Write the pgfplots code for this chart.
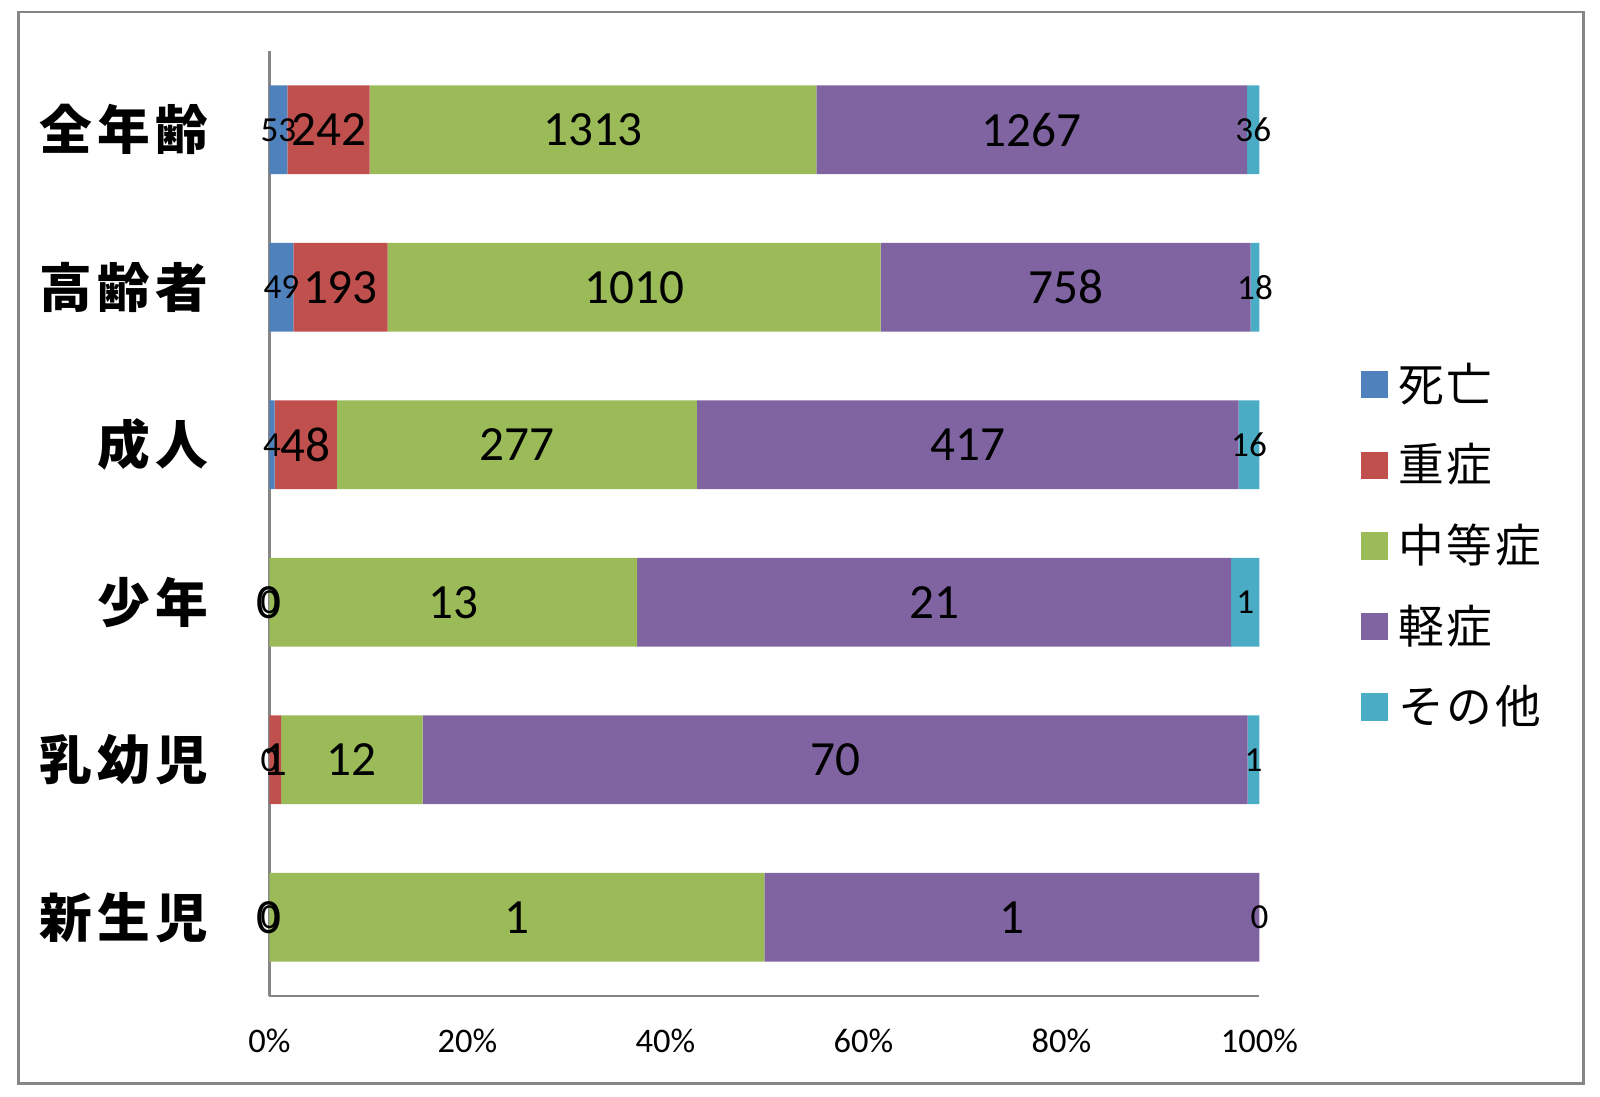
\documentclass[border=0pt]{standalone}
\usepackage{pgfplots}
\pgfplotsset{compat=1.18}
\usepackage{pgfplotstable}
\usepackage{fontspec}
\setmainfont{Carlito}
\newfontfamily\cjk[LetterSpace=6]{Noto Sans CJK JP}
\newfontfamily\cjkb[LetterSpace=10]{Noto Sans CJK JP}
\definecolor{cA}{HTML}{4F81BD}
\definecolor{cB}{HTML}{C0504D}
\definecolor{cC}{HTML}{9BBB59}
\definecolor{cD}{HTML}{8064A2}
\definecolor{cE}{HTML}{4BACC6}
\definecolor{axgray}{HTML}{868686}
\pgfplotstableread{
idx a b c d e
0 53 242 1313 1267 36
1 49 193 1010 758 18
2 4 48 277 417 16
3 0 0 13 21 1
4 0 1 12 70 1
5 0 0 1 1 0
}\data
\pgfplotstablecreatecol[create col/expr={\thisrow{a}+\thisrow{b}+\thisrow{c}+\thisrow{d}+\thisrow{e}}]{tot}\data
\pgfplotstablecreatecol[create col/expr={100*(0.5*\thisrow{a})/\thisrow{tot}}]{ma}\data
\pgfplotstablecreatecol[create col/expr={100*(\thisrow{a}+0.5*\thisrow{b})/\thisrow{tot}}]{mb}\data
\pgfplotstablecreatecol[create col/expr={100*(\thisrow{a}+\thisrow{b}+0.5*\thisrow{c})/\thisrow{tot}}]{mc}\data
\pgfplotstablecreatecol[create col/expr={100*(\thisrow{a}+\thisrow{b}+\thisrow{c}+0.5*\thisrow{d})/\thisrow{tot}}]{md}\data
\pgfplotstablecreatecol[create col/expr={100*(\thisrow{a}+\thisrow{b}+\thisrow{c}+\thisrow{d}+0.5*\thisrow{e})/\thisrow{tot}}]{me}\data
\pgfplotsset{
  common/.style={
    at={(2.694cm,1.0cm)}, anchor=south west,
    scale only axis, width=9.9cm, height=9.45cm,
    xmin=0, xmax=100, ymin=-0.5, ymax=5.5, y dir=reverse,
  },
  small lab/.style={draw=none, mark=none, nodes near coords, point meta=explicit symbolic,
    nodes near coords style={font=\fontsize{10}{10}\selectfont, anchor=center, inner sep=0pt, text=black}},
  big lab/.style={draw=none, mark=none, nodes near coords, point meta=explicit symbolic,
    nodes near coords style={font=\fontsize{14}{14}\selectfont, anchor=center, inner sep=0pt, text=black}},
}
\begin{document}
\begin{tikzpicture}[x=1cm,y=1cm]
\useasboundingbox (0,0) rectangle (16,10.96);
\draw[axgray, line width=0.025cm] (0.184,0.123) rectangle (15.837,10.838);
\begin{axis}[
  common,
  xbar stacked, bar width=0.886cm,
  axis x line*=bottom, axis y line*=left,
  axis line style={draw=axgray, line width=0.025cm, -},
  xtick={0,20,...,100}, xticklabel={\pgfmathprintnumber{\tick}\%},
  major tick length=0pt,
  ytick={0,...,5}, yticklabels={全年齢,高齢者,成人,少年,乳幼児,新生児},
  yticklabel style={font=\cjkb\bfseries\fontsize{15}{15}\selectfont, inner sep=0pt, anchor=east, xshift=-0.6cm},
  xticklabel style={font=\fontsize{9.8}{9.8}\selectfont, inner sep=0pt, anchor=center, yshift=-0.45cm},
  /pgf/number format/assume math mode=true,
  legend style={at={(axis description cs:1.1016,0.4763)}, anchor=west, draw=none, fill=none, inner sep=0pt,
    font=\cjk\fontsize{13}{13}\selectfont, row sep=0pt, column sep=0.1cm,
    nodes={inner sep=0pt, minimum height=0.806cm}},
  legend cell align=left,
  legend image code/.code={\fill[#1] (0cm,-0.1375cm) rectangle (0.275cm,0.1375cm);},
]
\addplot[fill=cA, draw=none] table[y=idx, x expr={\thisrow{a}/\thisrow{tot}*100}] {\data};
\addplot[fill=cB, draw=none] table[y=idx, x expr={\thisrow{b}/\thisrow{tot}*100}] {\data};
\addplot[fill=cC, draw=none] table[y=idx, x expr={\thisrow{c}/\thisrow{tot}*100}] {\data};
\addplot[fill=cD, draw=none] table[y=idx, x expr={\thisrow{d}/\thisrow{tot}*100}] {\data};
\addplot[fill=cE, draw=none] table[y=idx, x expr={\thisrow{e}/\thisrow{tot}*100}] {\data};
\legend{死亡,重症,中等症,軽症,その他}
\end{axis}
\begin{axis}[common, hide axis, clip=false]
\addplot[small lab] table[x=ma, y=idx, meta=a] {\data};
\addplot[big lab] table[x=mb, y=idx, meta=b] {\data};
\addplot[big lab] table[x=mc, y=idx, meta=c] {\data};
\addplot[big lab] table[x=md, y=idx, meta=d] {\data};
\addplot[small lab] table[x=me, y=idx, meta=e] {\data};
\end{axis}
\end{tikzpicture}
\end{document}
